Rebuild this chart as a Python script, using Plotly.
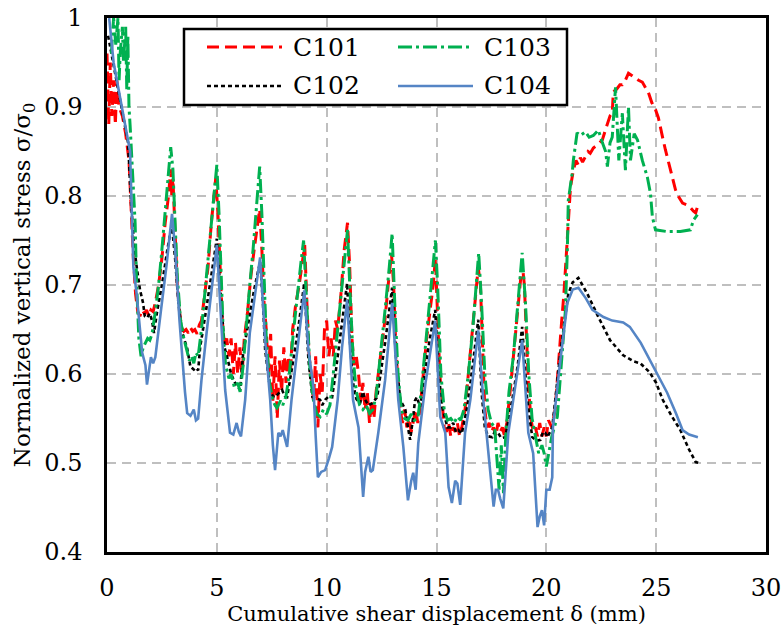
import plotly.graph_objects as go

# ---------------- data ----------------
c101_x = [0.0,0.08,0.15,0.22,0.3,0.38,0.45,0.55,0.7,0.85,1.0,1.1,1.2,1.3,1.4,1.5,1.6,1.7,1.8,1.9,2.0,2.1,2.2,2.35,2.5,2.65,2.8,2.9,2.95,3.0,3.1,3.2,3.3,3.4,3.5,3.6,3.7,3.8,3.9,4.0,4.1,4.2,4.3,4.45,4.6,4.75,4.85,4.95,5.05,5.15,5.25,5.35,5.45,5.55,5.65,5.75,5.85,5.95,6.05,6.15,6.25,6.4,6.55,6.7,6.85,6.95,7.05,7.15,7.25,7.35,7.45,7.55,7.65,7.75,7.85,7.95,8.05,8.15,8.25,8.35,8.45,8.6,8.75,8.9,9.0,9.1,9.2,9.3,9.4,9.5,9.6,9.7,9.8,9.9,10.0,10.1,10.2,10.3,10.4,10.5,10.65,10.8,10.95,11.05,11.15,11.25,11.35,11.45,11.55,11.65,11.75,11.85,11.95,12.05,12.15,12.25,12.35,12.5,12.65,12.8,12.95,13.05,13.15,13.25,13.35,13.45,13.55,13.65,13.75,13.85,13.95,14.05,14.15,14.25,14.4,14.55,14.7,14.85,14.95,15.05,15.15,15.25,15.35,15.45,15.55,15.65,15.75,15.85,15.95,16.05,16.15,16.3,16.45,16.6,16.75,16.9,17.0,17.1,17.2,17.3,17.4,17.5,17.6,17.7,17.8,17.9,18.0,18.1,18.2,18.35,18.5,18.65,18.8,18.9,19.0,19.1,19.2,19.3,19.4,19.5,19.6,19.7,19.8,19.9,20.0,20.1,20.25,20.4,20.55,20.7,20.8,20.96,21.1,21.23,21.35,21.45,21.55,21.65,21.78,21.9,22.0,22.14,22.3,22.45,22.55,22.7,22.78,22.9,23.0,23.05,23.2,23.35,23.46,23.6,23.74,23.9,24.05,24.2,24.37,24.5,24.65,24.8,24.97,25.1,25.2,25.3,25.42,25.55,25.65,25.75,25.88,26.0,26.2,26.4,26.56,26.7,26.8,26.88]
c101_y = [0.96,0.88,0.95,0.89,0.93,0.88,0.93,0.9,0.89,0.87,0.84,0.78,0.73,0.69,0.67,0.665,0.672,0.668,0.672,0.665,0.672,0.67,0.68,0.7,0.73,0.77,0.8,0.83,0.8,0.82,0.76,0.7,0.67,0.652,0.648,0.65,0.646,0.652,0.648,0.65,0.645,0.655,0.66,0.69,0.72,0.77,0.8,0.82,0.78,0.72,0.66,0.63,0.64,0.62,0.64,0.6,0.635,0.6,0.63,0.6,0.64,0.67,0.71,0.74,0.77,0.785,0.74,0.68,0.65,0.6,0.645,0.57,0.62,0.55,0.615,0.58,0.63,0.59,0.62,0.6,0.65,0.68,0.7,0.73,0.745,0.68,0.62,0.6,0.57,0.62,0.54,0.6,0.58,0.65,0.66,0.62,0.64,0.62,0.66,0.65,0.69,0.74,0.77,0.72,0.64,0.61,0.62,0.6,0.57,0.59,0.56,0.58,0.545,0.57,0.55,0.58,0.6,0.63,0.66,0.7,0.735,0.7,0.63,0.59,0.56,0.545,0.56,0.54,0.55,0.535,0.55,0.56,0.545,0.56,0.6,0.64,0.67,0.7,0.73,0.67,0.6,0.57,0.54,0.535,0.545,0.53,0.54,0.535,0.545,0.53,0.54,0.56,0.6,0.64,0.68,0.72,0.7,0.62,0.56,0.54,0.545,0.535,0.54,0.53,0.545,0.535,0.54,0.53,0.545,0.58,0.62,0.66,0.7,0.725,0.7,0.63,0.58,0.55,0.535,0.54,0.53,0.545,0.53,0.54,0.53,0.548,0.54,0.56,0.616,0.66,0.69,0.75,0.81,0.829,0.84,0.835,0.843,0.838,0.844,0.85,0.848,0.854,0.857,0.86,0.863,0.875,0.882,0.89,0.893,0.917,0.92,0.925,0.925,0.93,0.938,0.935,0.933,0.93,0.928,0.922,0.916,0.905,0.897,0.888,0.878,0.865,0.852,0.84,0.829,0.82,0.807,0.8,0.792,0.79,0.787,0.783,0.781,0.788]

c102_x = [0.05,0.2,0.5,0.8,0.96,1.1,1.25,1.37,1.5,1.64,1.72,1.82,1.95,2.05,2.14,2.28,2.5,2.75,2.95,3.1,3.25,3.4,3.5,3.64,3.8,3.95,4.05,4.15,4.24,4.5,4.75,5.0,5.2,5.35,5.5,5.65,5.83,5.95,6.06,6.2,6.45,6.7,6.97,7.1,7.2,7.43,7.55,7.65,7.8,7.97,8.1,8.2,8.43,8.7,8.98,9.17,9.35,9.5,9.7,9.8,9.93,10.1,10.25,10.4,10.65,10.93,11.05,11.2,11.35,11.52,11.65,11.75,11.9,12.07,12.3,12.45,12.66,12.98,13.15,13.35,13.58,13.7,13.8,13.94,14.02,14.1,14.26,14.5,14.7,14.94,15.1,15.26,15.5,15.65,15.76,15.88,15.99,16.15,16.4,16.65,16.9,17.05,17.2,17.35,17.54,17.65,17.8,17.95,18.13,18.45,18.7,18.9,19.13,19.36,19.55,19.73,19.85,19.95,20.05,20.27,20.64,21.0,21.2,21.46,21.87,22.37,22.9,23.5,24.0,24.28,24.7,25.0,25.3,25.7,26.1,26.5,26.8,26.95]
c102_y = [0.98,0.96,0.92,0.88,0.86,0.79,0.74,0.717,0.695,0.68,0.665,0.663,0.668,0.66,0.646,0.67,0.7,0.74,0.768,0.73,0.68,0.65,0.64,0.63,0.608,0.605,0.607,0.604,0.63,0.67,0.71,0.752,0.68,0.63,0.616,0.6,0.59,0.585,0.582,0.624,0.66,0.695,0.726,0.68,0.627,0.582,0.575,0.574,0.578,0.582,0.575,0.574,0.608,0.65,0.702,0.616,0.574,0.573,0.571,0.565,0.571,0.575,0.574,0.6,0.65,0.702,0.64,0.59,0.572,0.567,0.58,0.571,0.565,0.567,0.574,0.6,0.635,0.697,0.62,0.571,0.56,0.54,0.526,0.552,0.57,0.574,0.563,0.608,0.64,0.672,0.6,0.563,0.54,0.54,0.545,0.535,0.537,0.533,0.563,0.61,0.661,0.58,0.54,0.53,0.529,0.535,0.534,0.528,0.529,0.571,0.61,0.653,0.571,0.529,0.525,0.526,0.535,0.534,0.529,0.54,0.624,0.69,0.703,0.708,0.69,0.664,0.638,0.621,0.614,0.612,0.602,0.59,0.571,0.553,0.537,0.515,0.501,0.5]

c103_x = [0.2,0.3,0.4,0.5,0.55,0.6,0.7,0.75,0.85,0.9,0.95,1.0,1.05,1.14,1.28,1.35,1.45,1.55,1.65,1.75,1.85,1.95,2.05,2.2,2.35,2.5,2.65,2.8,2.9,3.0,3.1,3.2,3.35,3.5,3.65,3.75,3.85,3.95,4.05,4.15,4.3,4.45,4.6,4.75,4.9,5.0,5.1,5.2,5.3,5.4,5.55,5.65,5.8,5.95,6.06,6.2,6.35,6.5,6.65,6.8,6.95,7.05,7.15,7.25,7.4,7.55,7.65,7.74,7.9,8.0,8.15,8.3,8.5,8.7,8.85,8.95,9.1,9.25,9.4,9.55,9.7,9.85,10.0,10.15,10.3,10.5,10.7,10.85,10.95,11.05,11.2,11.35,11.5,11.65,11.8,11.95,12.1,12.25,12.45,12.65,12.85,12.98,13.1,13.25,13.4,13.55,13.7,13.85,14.0,14.15,14.3,14.5,14.7,14.85,14.95,15.05,15.2,15.35,15.5,15.65,15.8,15.95,16.1,16.25,16.45,16.65,16.8,16.92,17.05,17.2,17.35,17.5,17.65,17.75,17.85,17.95,18.05,18.15,18.3,18.5,18.7,18.9,19.05,19.2,19.35,19.5,19.65,19.8,19.9,20.0,20.1,20.25,20.5,20.7,20.87,20.96,21.0,21.18,21.23,21.4,21.55,21.78,21.95,22.14,22.37,22.55,22.7,22.78,22.9,23.0,23.15,23.3,23.46,23.6,23.74,23.83,24.0,24.15,24.37,24.6,24.74,24.83,24.97,25.5,26.1,26.56,26.7,26.88]
c103_y = [0.96,1.0,0.97,1.0,0.93,0.96,0.99,0.95,0.99,0.92,0.98,0.9,0.88,0.835,0.77,0.7,0.64,0.62,0.63,0.635,0.64,0.638,0.645,0.67,0.7,0.74,0.78,0.82,0.855,0.83,0.77,0.71,0.66,0.64,0.625,0.615,0.62,0.612,0.624,0.62,0.65,0.69,0.73,0.77,0.81,0.835,0.78,0.7,0.64,0.61,0.595,0.6,0.585,0.59,0.58,0.61,0.66,0.7,0.74,0.79,0.833,0.78,0.7,0.64,0.59,0.57,0.565,0.562,0.57,0.565,0.575,0.6,0.65,0.7,0.73,0.75,0.68,0.6,0.57,0.555,0.552,0.56,0.555,0.565,0.6,0.65,0.7,0.74,0.762,0.7,0.62,0.58,0.565,0.56,0.565,0.556,0.56,0.575,0.62,0.67,0.72,0.758,0.68,0.6,0.56,0.55,0.548,0.555,0.548,0.55,0.58,0.63,0.68,0.72,0.75,0.7,0.6,0.56,0.548,0.55,0.545,0.552,0.548,0.56,0.6,0.65,0.7,0.736,0.68,0.6,0.56,0.545,0.54,0.5,0.47,0.52,0.466,0.53,0.58,0.62,0.68,0.736,0.68,0.6,0.55,0.53,0.511,0.52,0.511,0.496,0.51,0.53,0.552,0.62,0.672,0.743,0.795,0.826,0.84,0.871,0.868,0.872,0.866,0.868,0.874,0.86,0.85,0.833,0.86,0.866,0.922,0.84,0.893,0.829,0.9,0.84,0.87,0.863,0.84,0.821,0.803,0.776,0.762,0.76,0.76,0.762,0.773,0.779]

c104_x = [0.1,0.3,0.6,0.9,1.05,1.2,1.35,1.6,1.75,1.82,1.9,2.0,2.1,2.2,2.45,2.7,2.96,3.1,3.3,3.4,3.55,3.65,3.8,3.95,4.05,4.15,4.3,4.55,4.8,5.0,5.15,5.38,5.6,5.75,5.9,6.0,6.1,6.29,6.5,6.75,6.97,7.2,7.43,7.55,7.65,7.8,7.9,8.0,8.2,8.4,8.66,8.98,9.17,9.4,9.5,9.6,9.75,9.93,10.1,10.25,10.5,10.7,10.93,11.2,11.45,11.66,11.75,11.9,12.0,12.1,12.35,12.66,12.98,13.26,13.49,13.7,13.85,13.94,14.05,14.17,14.5,14.94,15.17,15.4,15.55,15.7,15.85,15.95,16.08,16.3,16.54,16.9,17.13,17.36,17.6,17.7,17.8,17.9,18.04,18.27,18.6,18.9,19.18,19.4,19.6,19.7,19.8,19.9,20.0,20.15,20.27,20.3,20.64,20.96,21.2,21.46,21.8,22.1,22.6,23.0,23.5,23.8,24.3,24.7,25.1,25.5,25.9,26.2,26.5,26.9]
c104_y = [1.0,0.95,0.91,0.87,0.85,0.72,0.69,0.624,0.61,0.588,0.605,0.619,0.612,0.619,0.67,0.72,0.78,0.74,0.66,0.623,0.58,0.556,0.553,0.56,0.548,0.55,0.593,0.65,0.7,0.745,0.68,0.582,0.534,0.532,0.545,0.535,0.53,0.571,0.646,0.69,0.731,0.638,0.571,0.52,0.492,0.534,0.53,0.537,0.518,0.571,0.627,0.694,0.627,0.585,0.53,0.484,0.49,0.492,0.505,0.518,0.571,0.63,0.683,0.571,0.54,0.462,0.49,0.507,0.49,0.492,0.534,0.593,0.68,0.571,0.518,0.458,0.48,0.489,0.47,0.522,0.59,0.66,0.552,0.534,0.473,0.455,0.48,0.477,0.453,0.534,0.571,0.649,0.571,0.511,0.451,0.47,0.47,0.46,0.449,0.534,0.59,0.638,0.534,0.511,0.428,0.44,0.447,0.43,0.47,0.47,0.484,0.54,0.616,0.68,0.695,0.697,0.685,0.672,0.664,0.66,0.658,0.653,0.635,0.616,0.598,0.579,0.556,0.537,0.532,0.529]

series_names = ["C101", "C102", "C103", "C104"]
x_ticks = [0, 5, 10, 15, 20, 25, 30]
y_ticks = [0.4, 0.5, 0.6, 0.7, 0.8, 0.9, 1.0]
y_tick_text = ["0.4", "0.5", "0.6", "0.7", "0.8", "0.9", "1"]

# ---------------- styles ----------------
FONT = "DejaVu Serif"
styles = {
    "C101": dict(color="#FF0000", width=3, dash="12px,6px"),
    "C102": dict(color="#000000", width=2.6, dash="4px,3px"),
    "C103": dict(color="#00B050", width=3, dash="14px,4px,3px,4px"),
    "C104": dict(color="#5585C5", width=2.6, dash="solid"),
}
data = {
    "C101": (c101_x, c101_y),
    "C102": (c102_x, c102_y),
    "C103": (c103_x, c103_y),
    "C104": (c104_x, c104_y),
}

fig = go.Figure()
for name in series_names:
    xs, ys = data[name]
    fig.add_trace(go.Scatter(x=xs, y=ys, mode="lines", name=name,
                             line=styles[name], showlegend=False))

# ---------------- custom legend (paper coords) ----------------
L, R, T, B, W, H = 107, 15, 18, 87, 781, 639
pw, ph = W - L - R, H - T - B
def px2paper(x, y):
    return (x - L) / pw, (H - B - y) / ph

x0, y1 = px2paper(184, 29)
x1, y0 = px2paper(567, 105)
fig.add_shape(type="rect", xref="paper", yref="paper", x0=x0, x1=x1, y0=y0, y1=y1,
              line=dict(color="black", width=2.5), fillcolor="white", layer="above")
leg_pos = {"C101": (207, 47), "C102": (207, 86), "C103": (398, 47), "C104": (398, 86)}
for name in series_names:
    lx, ly = leg_pos[name]
    ax0, ay = px2paper(lx, ly)
    ax1, _ = px2paper(lx + 75, ly)
    st = styles[name]
    fig.add_shape(type="line", xref="paper", yref="paper", x0=ax0, x1=ax1, y0=ay, y1=ay,
                  line=dict(color=st["color"], width=st["width"], dash=st["dash"]), layer="above")
    tx, _ = px2paper(lx + 84, ly)
    fig.add_annotation(xref="paper", yref="paper", x=tx, y=ay, text=name, showarrow=False,
                       xanchor="left", yanchor="middle", font=dict(family=FONT, size=25, color="black"))

grid = dict(showgrid=True, gridcolor="#BFBFBF", gridwidth=2, griddash="9px,6px")
fig.update_xaxes(range=[0, 30], tickvals=x_ticks, ticks="", showline=True, linecolor="black",
                 linewidth=2.5, mirror=True, zeroline=False, ticklabelstandoff=12,
                 automargin=False, ticklabeloverflow="allow",
                 tickfont=dict(family=FONT, size=24, color="black"),
                 title=dict(text="Cumulative shear displacement δ (mm)", standoff=0,
                            font=dict(family=FONT, size=21, color="black")), **grid)
fig.update_yaxes(range=[0.4, 1.0], tickvals=y_ticks, ticktext=y_tick_text, ticks="", showline=True,
                 linecolor="black", linewidth=2.5, mirror=True, zeroline=False, ticklabelstandoff=17,
                 automargin=False, ticklabeloverflow="allow",
                 tickfont=dict(family=FONT, size=24, color="black"),
                 title=dict(text="Normalized vertical stress σ/σ<sub>0</sub>", standoff=8,
                            font=dict(family=FONT, size=23, color="black")), **grid)
fig.update_layout(width=W, height=H, margin=dict(l=L, r=R, t=T, b=B, autoexpand=False),
                  font=dict(family=FONT),
                  plot_bgcolor="white", paper_bgcolor="white", showlegend=False)
fig.write_html("out.html")
